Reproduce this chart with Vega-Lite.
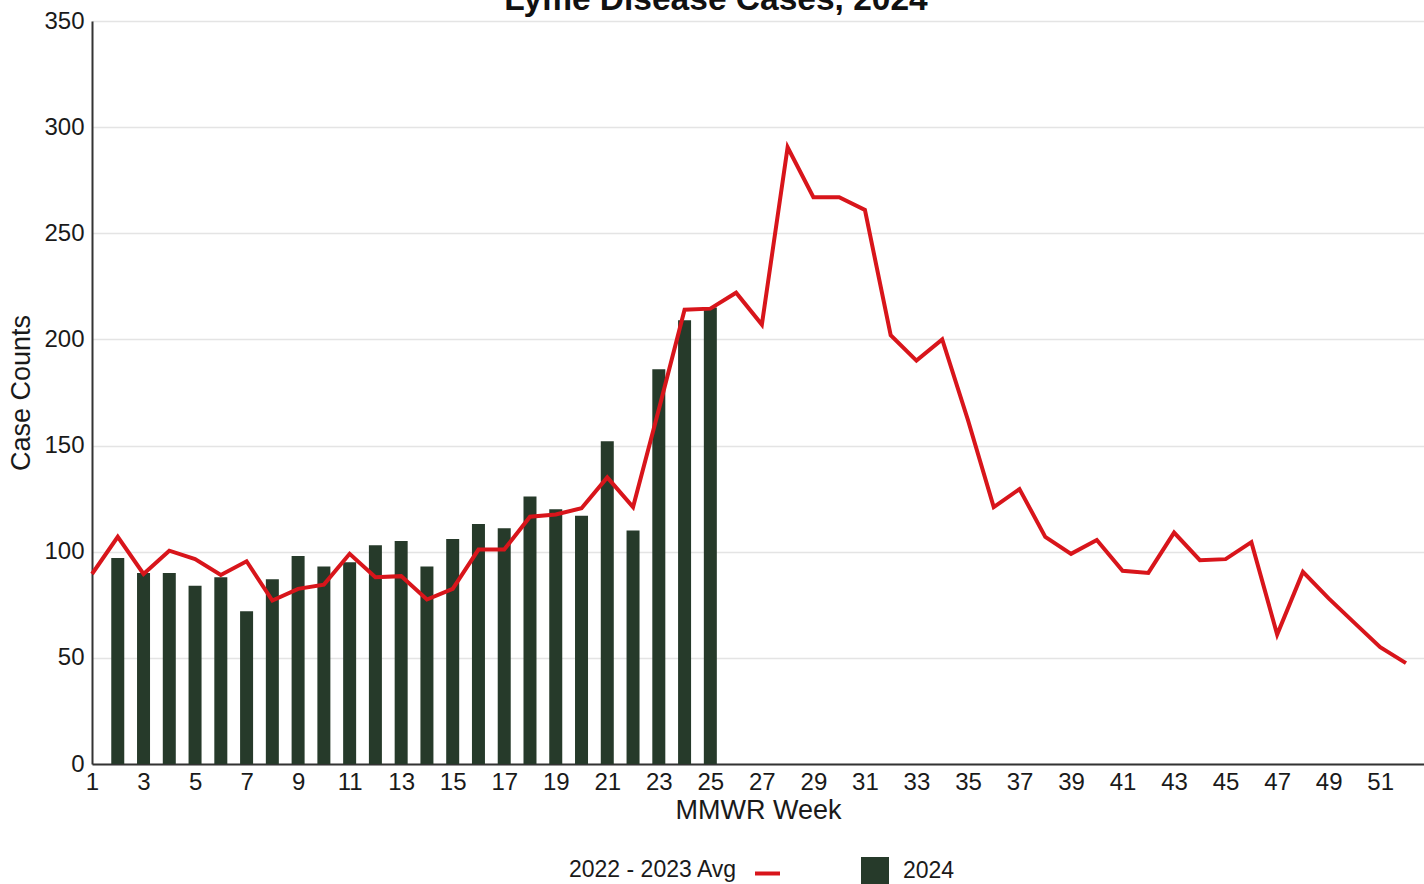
{
  "$schema": "https://vega.github.io/schema/vega-lite/v6.json",
  "width": 1332,
  "height": 743,
  "autosize": {"type": "none"},
  "padding": {"left": 92, "top": 21, "right": 0, "bottom": 120},
  "background": "white",
  "title": {
    "text": "Lyme Disease Cases, 2024",
    "font": "Liberation Sans",
    "fontSize": 33.5,
    "fontWeight": "bold",
    "color": "#111111",
    "anchor": "middle",
    "frame": "bounds",
    "baseline": "alphabetic",
    "offset": 0,
    "dy": 34
  },
  "config": {
    "view": {"stroke": null},
    "font": "Liberation Sans"
  },
  "datasets": {
    "avg": [
      {"week": 1, "series": "2022 - 2023 Avg", "cases": 89.5},
      {"week": 2, "series": "2022 - 2023 Avg", "cases": 107},
      {"week": 3, "series": "2022 - 2023 Avg", "cases": 89.5},
      {"week": 4, "series": "2022 - 2023 Avg", "cases": 100.5},
      {"week": 5, "series": "2022 - 2023 Avg", "cases": 96.5},
      {"week": 6, "series": "2022 - 2023 Avg", "cases": 89},
      {"week": 7, "series": "2022 - 2023 Avg", "cases": 95.5},
      {"week": 8, "series": "2022 - 2023 Avg", "cases": 77},
      {"week": 9, "series": "2022 - 2023 Avg", "cases": 82.5},
      {"week": 10, "series": "2022 - 2023 Avg", "cases": 84.5},
      {"week": 11, "series": "2022 - 2023 Avg", "cases": 99},
      {"week": 12, "series": "2022 - 2023 Avg", "cases": 88},
      {"week": 13, "series": "2022 - 2023 Avg", "cases": 88.5},
      {"week": 14, "series": "2022 - 2023 Avg", "cases": 77.5},
      {"week": 15, "series": "2022 - 2023 Avg", "cases": 82.5},
      {"week": 16, "series": "2022 - 2023 Avg", "cases": 101},
      {"week": 17, "series": "2022 - 2023 Avg", "cases": 101},
      {"week": 18, "series": "2022 - 2023 Avg", "cases": 116.5},
      {"week": 19, "series": "2022 - 2023 Avg", "cases": 117.5},
      {"week": 20, "series": "2022 - 2023 Avg", "cases": 120.5},
      {"week": 21, "series": "2022 - 2023 Avg", "cases": 135},
      {"week": 22, "series": "2022 - 2023 Avg", "cases": 121},
      {"week": 23, "series": "2022 - 2023 Avg", "cases": 167},
      {"week": 24, "series": "2022 - 2023 Avg", "cases": 214},
      {"week": 25, "series": "2022 - 2023 Avg", "cases": 214.5},
      {"week": 26, "series": "2022 - 2023 Avg", "cases": 222},
      {"week": 27, "series": "2022 - 2023 Avg", "cases": 207},
      {"week": 28, "series": "2022 - 2023 Avg", "cases": 290.5},
      {"week": 29, "series": "2022 - 2023 Avg", "cases": 267},
      {"week": 30, "series": "2022 - 2023 Avg", "cases": 267},
      {"week": 31, "series": "2022 - 2023 Avg", "cases": 261},
      {"week": 32, "series": "2022 - 2023 Avg", "cases": 202},
      {"week": 33, "series": "2022 - 2023 Avg", "cases": 190},
      {"week": 34, "series": "2022 - 2023 Avg", "cases": 200},
      {"week": 35, "series": "2022 - 2023 Avg", "cases": 162},
      {"week": 36, "series": "2022 - 2023 Avg", "cases": 121},
      {"week": 37, "series": "2022 - 2023 Avg", "cases": 129.5},
      {"week": 38, "series": "2022 - 2023 Avg", "cases": 107},
      {"week": 39, "series": "2022 - 2023 Avg", "cases": 99},
      {"week": 40, "series": "2022 - 2023 Avg", "cases": 105.5},
      {"week": 41, "series": "2022 - 2023 Avg", "cases": 91},
      {"week": 42, "series": "2022 - 2023 Avg", "cases": 90},
      {"week": 43, "series": "2022 - 2023 Avg", "cases": 109},
      {"week": 44, "series": "2022 - 2023 Avg", "cases": 96},
      {"week": 45, "series": "2022 - 2023 Avg", "cases": 96.5},
      {"week": 46, "series": "2022 - 2023 Avg", "cases": 104.5},
      {"week": 47, "series": "2022 - 2023 Avg", "cases": 61},
      {"week": 48, "series": "2022 - 2023 Avg", "cases": 90.5},
      {"week": 49, "series": "2022 - 2023 Avg", "cases": 78},
      {"week": 50, "series": "2022 - 2023 Avg", "cases": 66.5},
      {"week": 51, "series": "2022 - 2023 Avg", "cases": 55},
      {"week": 52, "series": "2022 - 2023 Avg", "cases": 47.5}
    ],
    "y2024": [
      {"week": 2, "series": "2024", "cases": 97},
      {"week": 3, "series": "2024", "cases": 90},
      {"week": 4, "series": "2024", "cases": 90},
      {"week": 5, "series": "2024", "cases": 84},
      {"week": 6, "series": "2024", "cases": 88},
      {"week": 7, "series": "2024", "cases": 72},
      {"week": 8, "series": "2024", "cases": 87},
      {"week": 9, "series": "2024", "cases": 98},
      {"week": 10, "series": "2024", "cases": 93},
      {"week": 11, "series": "2024", "cases": 95},
      {"week": 12, "series": "2024", "cases": 103},
      {"week": 13, "series": "2024", "cases": 105},
      {"week": 14, "series": "2024", "cases": 93},
      {"week": 15, "series": "2024", "cases": 106},
      {"week": 16, "series": "2024", "cases": 113},
      {"week": 17, "series": "2024", "cases": 111},
      {"week": 18, "series": "2024", "cases": 126},
      {"week": 19, "series": "2024", "cases": 120},
      {"week": 20, "series": "2024", "cases": 117},
      {"week": 21, "series": "2024", "cases": 152},
      {"week": 22, "series": "2024", "cases": 110},
      {"week": 23, "series": "2024", "cases": 186},
      {"week": 24, "series": "2024", "cases": 209},
      {"week": 25, "series": "2024", "cases": 215}
    ]
  },
  "encoding": {
    "x": {
      "field": "week",
      "type": "quantitative",
      "scale": {"domain": [1, 52.7], "nice": false, "zero": false, "padding": 0},
      "axis": {
        "title": "MMWR Week",
        "values": [1, 3, 5, 7, 9, 11, 13, 15, 17, 19, 21, 23, 25, 27, 29, 31, 33, 35, 37, 39, 41, 43, 45, 47, 49, 51],
        "grid": false,
        "ticks": false,
        "domainColor": "#333333",
        "domainWidth": 2,
        "labelFont": "Liberation Sans",
        "labelFontSize": 24,
        "labelColor": "#1a1a1a",
        "labelPadding": 6,
        "labelFlush": false,
        "labelOverlap": false,
        "titleFont": "Liberation Sans",
        "titleFontSize": 27,
        "titleFontWeight": "normal",
        "titleColor": "#1a1a1a",
        "titlePadding": 3
      }
    },
    "y": {
      "field": "cases",
      "type": "quantitative",
      "scale": {"domain": [0, 350], "nice": false},
      "axis": {
        "title": "Case Counts",
        "values": [0, 50, 100, 150, 200, 250, 300, 350],
        "grid": true,
        "gridColor": "#e4e4e4",
        "gridWidth": 1.5,
        "ticks": false,
        "domainColor": "#333333",
        "domainWidth": 2,
        "labelFont": "Liberation Sans",
        "labelFontSize": 24,
        "labelColor": "#1a1a1a",
        "labelPadding": 8,
        "labelFlush": false,
        "titleFont": "Liberation Sans",
        "titleFontSize": 27,
        "titleFontWeight": "normal",
        "titleColor": "#1a1a1a",
        "titlePadding": 8
      }
    }
  },
  "layer": [
    {
      "data": {"name": "y2024"},
      "mark": {"type": "bar", "width": 13},
      "encoding": {
        "fill": {
          "field": "series",
          "type": "nominal",
          "scale": {"domain": ["2024"], "range": ["#263a2a"]},
          "legend": {
            "orient": "none",
            "legendX": 769,
            "legendY": 836,
            "title": null,
            "padding": 0,
            "symbolType": "square",
            "symbolSize": 784,
            "symbolStrokeWidth": 0,
            "labelFont": "Liberation Sans",
            "labelFontSize": 23,
            "labelColor": "#1a1a1a",
            "labelOffset": 14
          }
        }
      }
    },
    {
      "data": {"name": "avg"},
      "mark": {"type": "line", "strokeWidth": 4, "strokeJoin": "miter"},
      "encoding": {
        "stroke": {
          "field": "series",
          "type": "nominal",
          "scale": {"domain": ["2022 - 2023 Avg"], "range": ["#d8151b"]},
          "legend": {
            "orient": "none",
            "legendX": 477,
            "legendY": 838,
            "title": "2022 - 2023 Avg",
            "titleOrient": "left",
            "titleFont": "Liberation Sans",
            "titleFontSize": 23,
            "titleFontWeight": "normal",
            "titleColor": "#1a1a1a",
            "titlePadding": 15,
            "titleBaseline": "middle",
            "padding": 0,
            "symbolType": "stroke",
            "symbolSize": 625,
            "symbolStrokeWidth": 4,
            "labelExpr": "''",
            "labelOffset": 0
          }
        }
      }
    }
  ]
}
